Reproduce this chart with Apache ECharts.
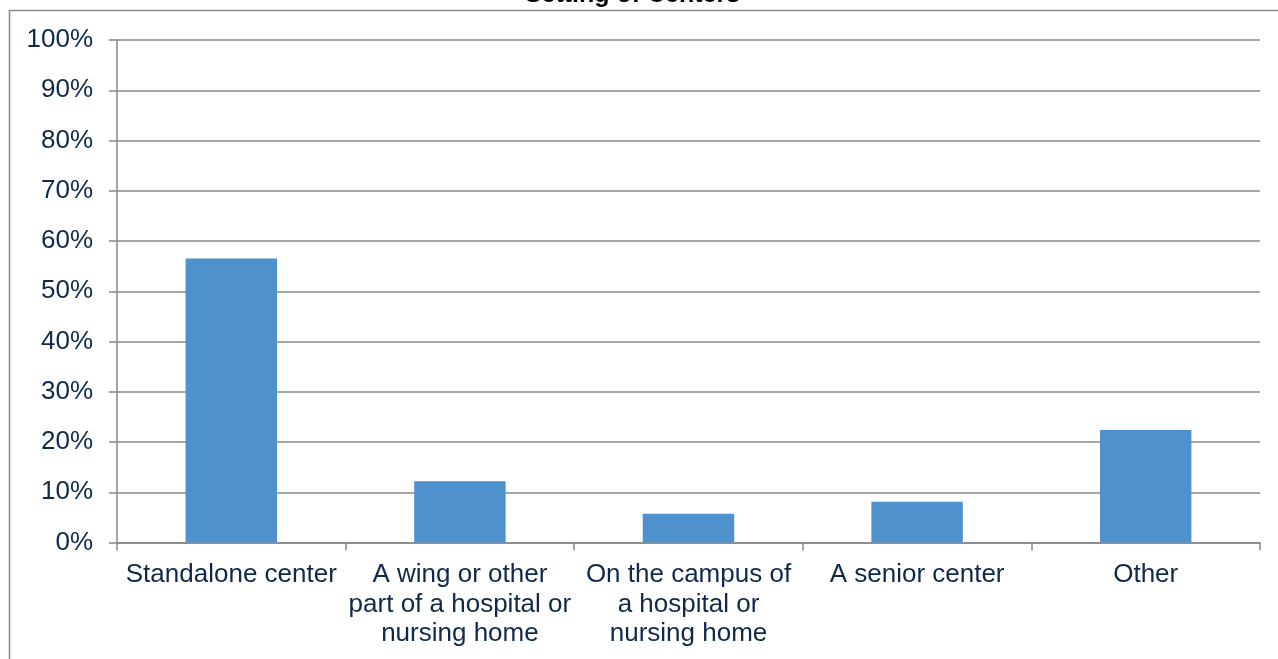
<!DOCTYPE html>
<html>
<head>
<meta charset="utf-8">
<title>Setting of Centers</title>
<script src="https://cdn.jsdelivr.net/npm/echarts@6/dist/echarts.min.js"></script>
<style>
  html, body { margin: 0; padding: 0; background: #ffffff; }
  #chart { width: 1278px; height: 659px; }
</style>
</head>
<body>
<div id="chart"></div>
<script>
// Setting categories (x axis), wrapped onto lines as shown under each bar
const categories = [
  'Standalone center',
  'A wing or other\npart of a hospital or\nnursing home',
  'On the campus of\na hospital or\nnursing home',
  'A senior center',
  'Other'
];

// Share of centers in each setting, in percent
const shares = [56.5, 12.2, 5.7, 8.1, 22.4];

// Value axis range and step, in percent
const yMin = 0;
const yMax = 100;
const yStep = 10;

const chartTitle = 'Setting of Centers';

const textColor = '#10284a';
const lineColor = '#88888c';
const barColor = '#4f91cd';
const fontFamily = '"Liberation Sans", Arial, sans-serif';

const chart = echarts.init(document.getElementById('chart'), null, { renderer: 'canvas' });

chart.setOption({
  animation: false,
  backgroundColor: '#ffffff',
  graphic: [
    {
      // outer chart frame
      type: 'rect',
      shape: { x: 9.5, y: 10.5, width: 1400, height: 800 },
      style: { fill: 'none', stroke: lineColor, lineWidth: 1.5 },
      silent: true,
      z: -1
    },
    {
      type: 'text',
      x: 632.5,
      y: -5.3,
      style: {
        text: chartTitle,
        fill: '#000000',
        font: 'bold 25px ' + fontFamily,
        textAlign: 'center',
        textVerticalAlign: 'middle'
      },
      silent: true
    }
  ],
  grid: {
    left: 117,
    right: 18,
    top: 40,
    bottom: 116.5,
    containLabel: false
  },
  xAxis: {
    type: 'category',
    data: categories,
    boundaryGap: true,
    axisLine: { show: true, lineStyle: { color: lineColor, width: 1.5 } },
    axisTick: {
      show: true,
      alignWithLabel: false,
      length: 8,
      inside: false,
      lineStyle: { color: lineColor, width: 1.5 }
    },
    axisLabel: {
      interval: 0,
      margin: 18,
      color: textColor,
      fontFamily: fontFamily,
      fontSize: 26,
      lineHeight: 29.5,
      align: 'center'
    },
    splitLine: { show: false }
  },
  yAxis: {
    type: 'value',
    min: yMin,
    max: yMax,
    interval: yStep,
    axisLine: { show: true, lineStyle: { color: lineColor, width: 1.5 } },
    axisTick: { show: true, length: 8, lineStyle: { color: lineColor, width: 1.5 } },
    axisLabel: {
      formatter: '{value}%',
      margin: 24,
      color: textColor,
      fontFamily: fontFamily,
      fontSize: 26
    },
    splitLine: { show: true, lineStyle: { color: lineColor, width: 1.5 } }
  },
  series: [
    {
      type: 'bar',
      data: shares,
      barWidth: '40%',
      itemStyle: { color: barColor },
      label: { show: false }
    }
  ]
});
</script>
</body>
</html>
